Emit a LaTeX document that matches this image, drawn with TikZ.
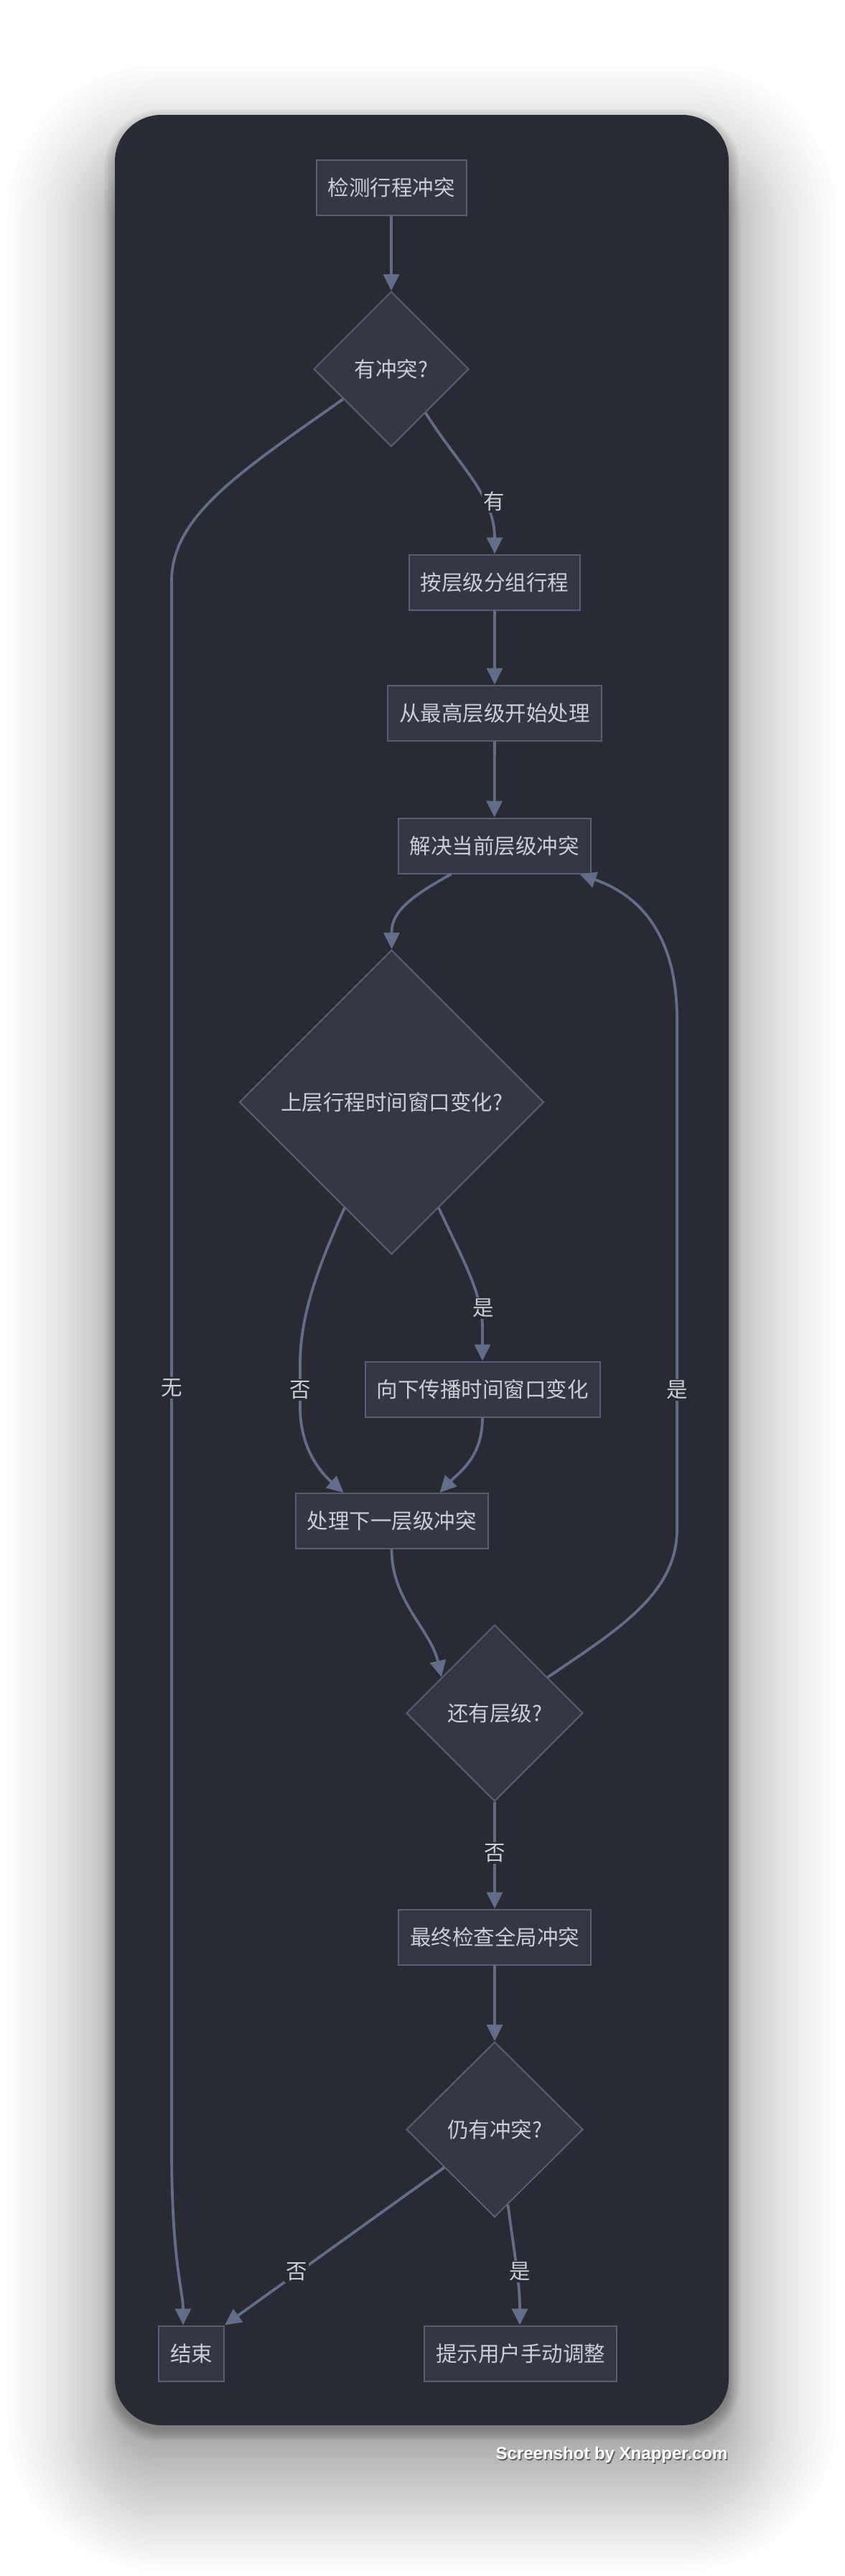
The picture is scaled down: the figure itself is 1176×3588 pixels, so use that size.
\documentclass[tikz,border=0pt]{standalone}
\usepackage{fontspec}
\setmainfont{Liberation Sans}
\newfontfamily\cjk{Noto Sans CJK SC}
\usetikzlibrary{shapes.geometric,arrows.meta}
\definecolor{cardbg}{HTML}{282B34}
\definecolor{nodebg}{HTML}{343845}
\definecolor{nodeline}{HTML}{596075}
\definecolor{edgecol}{HTML}{646D87}
\definecolor{txt}{HTML}{CBCED6}
\begin{document}
\begin{tikzpicture}[x=1pt,y=-1pt,
  cjkfont/.style={font=\cjk\fontsize{29.5}{34}\selectfont},
  box/.style={draw=nodeline, line width=2pt, fill=nodebg, text=txt, cjkfont, inner xsep=16pt, inner ysep=0pt, minimum height=77pt},
  dia/.style={diamond, draw=nodeline, line width=2pt, fill=nodebg, text=txt, cjkfont, inner sep=0pt, aspect=1},
  edge/.style={draw=edgecol, line width=3.8pt, -{Triangle[length=23pt,width=22pt]}},
  lbl/.style={fill=cardbg, text=txt, cjkfont, inner sep=2pt}]
\fill[white] (0,0) rectangle (1176,3588);
\useasboundingbox (0,0) rectangle (1176,3588);
% broad shadow
\foreach \i in {1,...,30} {
  \pgfmathsetmacro\rr{\i*\i/6}
  \pgfmathsetmacro\rb{\i*6.7}
  \pgfmathsetmacro\rc{65+\rr}
  \fill[black, opacity=0.012, rounded corners=\rc pt] (160-\rr,240-\rr) rectangle (1015+\rr,3378+\rb);
}
% tight shadow
\foreach \r in {0,3,...,15} {
  \pgfmathsetmacro\rc{65+\r}
  \fill[black, opacity=0.04, rounded corners=\rc pt] (160-\r,168-\r) rectangle (1015+\r,3386+\r);
}
% card
\fill[cardbg, rounded corners=65pt] (160,160) rectangle (1015,3378);

% nodes
\node[box] (n1) at (545,261) {检测行程冲突};
\node[dia, minimum width=216pt, minimum height=216pt] (d1) at (545,514) {有冲突?};
\node[box] (n2) at (689,811) {按层级分组行程};
\node[box] (n3) at (689,993) {从最高层级开始处理};
\node[box] (n4) at (688.5,1178) {解决当前层级冲突};
\node[dia, minimum width=424pt, minimum height=424pt] (d2) at (545.5,1535) {上层行程时间窗口变化?};
\node[box] (n5) at (672,1935) {向下传播时间窗口变化};
\node[box] (n6) at (545.5,2118.5) {处理下一层级冲突};
\node[dia, minimum width=246pt, minimum height=246pt] (d3) at (689,2386) {还有层级?};
\node[box] (n7) at (689,2698) {最终检查全局冲突};
\node[dia, minimum width=246pt, minimum height=244pt] (d4) at (689,2966) {仍有冲突?};
\node[box] (n8) at (266.5,3278) {结束};
\node[box] (n9) at (725,3278) {提示用户手动调整};

% edges
\draw[edge] (n1) -- (d1);
\draw[edge] (d1.-52) .. controls (640,650) and (689,690) .. (n2.north);
\draw[edge] (d1.212) .. controls (330,660) and (239,720) .. (239,810) -- (239,2990) .. controls (239,3150) and (255,3190) .. ([xshift=-11.5pt]n8.north);
\draw[edge] (n2) -- (n3);
\draw[edge] (n3) -- (n4);
\draw[edge] ([xshift=-60pt]n4.south) .. controls (560,1255) and (545.5,1275) .. (d2.north);
\draw[edge] (d2.246) .. controls (445,1760) and (418,1830) .. (418,1900) -- (418,1960) .. controls (418,2010) and (440,2045) .. ([xshift=-67pt]n6.north);
\draw[edge] (d2.-66) .. controls (642,1750) and (672,1800) .. (672,1850) -- (n5.north);
\draw[edge] (n5.south) .. controls (672,2030) and (640,2050) .. ([xshift=67pt]n6.north);
\draw[edge] (n6.south) .. controls (545.5,2230) and (600,2270) .. (d3.146);
\draw[edge] (d3.34) .. controls (860,2270) and (943,2220) .. (943,2130) -- (943,1420) .. controls (943,1280) and (870,1240) .. ([xshift=-16pt]n4.south east);
\draw[edge] (d3) -- (n7);
\draw[edge] (n7) -- (d4);
\draw[edge] (d4.217) -- (n8.north east);
\draw[edge] (d4.-80) .. controls (718,3150) and (724,3180) .. ([xshift=-1pt]n9.north);

% edge labels
\node[lbl] (l1) at (688,698) {有};
\node[lbl] (l2) at (239,1933) {无};
\node[lbl] (l3) at (673,1822) {是};
\node[lbl] (l4) at (418,1936) {否};
\node[lbl] (l5) at (943,1936) {是};
\node[lbl] (l6) at (689,2581) {否};
\node[lbl] (l7) at (413,3164) {否};
\node[lbl] (l8) at (724,3164) {是};

% watermark
\node[anchor=base east, text=black, opacity=0.5, font=\bfseries\fontsize{24}{30}\selectfont] (wms) at (1018.5,3427.5) {Screenshot by Xnapper.com};
\node[anchor=base east, text=white, font=\bfseries\fontsize{24}{30}\selectfont] (wm) at (1017,3425) {Screenshot by Xnapper.com};
\end{tikzpicture}
\end{document}
